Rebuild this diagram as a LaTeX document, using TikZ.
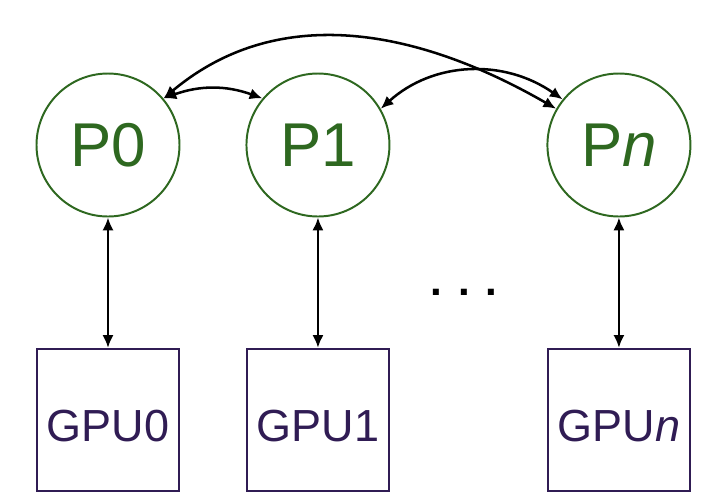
\documentclass[tikz,border=0pt]{standalone}
\usepackage{fontspec}
\setmainfont{Liberation Sans}
\usetikzlibrary{positioning}
\usetikzlibrary{arrows.meta}
\definecolor{procgreen}{RGB}{46,104,32}
\definecolor{gpupurple}{RGB}{48,28,84}

\begin{document}
\begin{tikzpicture}[
    node distance=1.625cm and 1.625cm,
    >={Latex[length=3.2mm,width=2.8mm]},
    proc/.style={draw=procgreen,text=procgreen,circle,line width=1.4pt,minimum size=3.575cm,inner sep=0pt,font=\fontsize{44}{50}\selectfont},
    gpu/.style={draw=gpupurple,text=gpupurple,line width=1.8pt,minimum size=3.55cm,inner sep=0pt,text height=1.06cm,text depth=0pt,font=\fontsize{32}{38}\selectfont},
    link/.style={<->,line width=1.8pt}
    ]
    \useasboundingbox (0,0) rectangle (18,-12.575);

    \node[proc] (p0) at (2.7,-3.625) {P0};
    \node[proc, right=of p0] (p1) {P1};
    \node[proc, right=3.9cm of p1] (pn) {P\textit{n}};

    \node[gpu, below=3.26cm of p0] (gpu0) {GPU0};
    \node[gpu, below=3.26cm of p1] (gpu1) {GPU1};
    \node[gpu, below=3.26cm of pn] (gpun) {GPU\textit{n}};

    \node[font=\bfseries\fontsize{30}{34}\selectfont] (dots) at (11.6,-7.3) {. . .};

    \path (p0) edge[link] (gpu0)
    (p1) edge[link] (gpu1)
    (pn) edge[link] (gpun)
    (p0.40) edge[link, out=20, in=160] (p1.140)
    (p0.40) edge[link, out=40, in=150] (pn.150)
    (p1.30) edge[link, out=42, in=145] (pn.141)
    ;

\end{tikzpicture}
\end{document}
